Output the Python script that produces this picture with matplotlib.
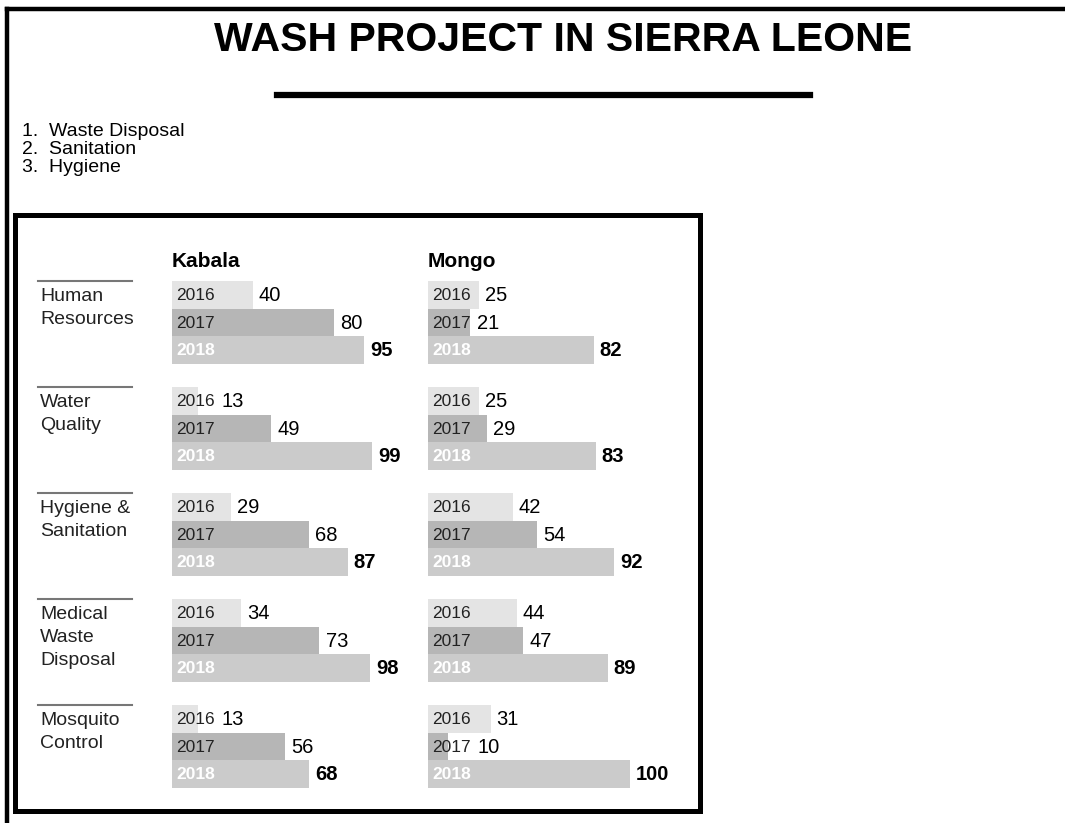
import matplotlib.pyplot as plt
from matplotlib.transforms import blended_transform_factory
from matplotlib.patches import Rectangle
from matplotlib.lines import Line2D

title = "WASH PROJECT IN SIERRA LEONE"
notes = ["1.  Waste Disposal", "2.  Sanitation", "3.  Hygiene"]
categories = ["Human\nResources", "Water\nQuality", "Hygiene &\nSanitation",
              "Medical\nWaste\nDisposal", "Mosquito\nControl"]
years = ["2016", "2017", "2018"]
towns = ["Kabala", "Mongo"]

kabala = {
    "2016": [40, 13, 29, 34, 13],
    "2017": [80, 49, 68, 73, 56],
    "2018": [95, 99, 87, 98, 68],
}
mongo = {
    "2016": [25, 25, 42, 44, 31],
    "2017": [21, 29, 54, 47, 10],
    "2018": [82, 83, 92, 89, 100],
}

bar_colors = {"2016": "#e4e4e4", "2017": "#b6b6b6", "2018": "#cbcbcb"}
year_text = {"2016": "#222222", "2017": "#222222", "2018": "white"}

W, H = 1065, 823
fig = plt.figure(figsize=(W / 100, H / 100), dpi=100)
plt.rcParams['font.family'] = ['Liberation Sans', 'DejaVu Sans']

def fx(px):
    return px / W

def fy(py):
    return 1 - py / H

# frames
fig.add_artist(Line2D([fx(7), 1], [fy(9), fy(9)], color="black", lw=3.2))
fig.add_artist(Line2D([fx(7), fx(7)], [fy(9), 0], color="black", lw=3.2))
fig.add_artist(Rectangle((fx(15), fy(811)), fx(700) - fx(15), fy(215) - fy(811),
                         fill=False, ec="black", lw=3.6))

fig.text(fx(563), fy(40), title, ha="center", va="center", fontsize=29.5,
         fontweight="bold")
fig.add_artist(Line2D([fx(277), fx(810)], [fy(95), fy(95)], color="black", lw=4.5))

for i, n in enumerate(notes):
    fig.text(fx(22), fy(131 + 18.5 * i), n, ha="left", va="center", fontsize=14)

gap = 106 / 27.5
n = len(categories)
ymax = (n - 1) * gap + 3
top_px, bot_px = 281, 281 + 106 * (n - 1) + 82.5
px_per_unit = 2.02
xmax = 130

axes = []
for t, (town, data, left_px) in enumerate(zip(towns, [kabala, mongo], [172, 428])):
    ax = fig.add_axes([fx(left_px), fy(bot_px), xmax * px_per_unit / W,
                       (bot_px - top_px) / H])
    ax.set_xlim(0, xmax)
    ax.set_ylim(ymax, 0)
    ax.axis("off")
    for j, yr in enumerate(years):
        ys = [i * gap + j + 0.5 for i in range(n)]
        ax.barh(ys, data[yr], height=1.0, color=bar_colors[yr], left=0)
        for y, v in zip(ys, data[yr]):
            ax.text(2, y + 0.03, yr, ha="left", va="center", fontsize=12.5,
                    color=year_text[yr], fontweight="bold" if yr == "2018" else "normal")
            lx = max(v, 21.5) + 3
            ax.text(lx, y + 0.03, str(v), ha="left", va="center", fontsize=14.5,
                    color="black", fontweight="bold" if yr == "2018" else "normal")
    ax.text(0, -0.7, town, ha="left", va="center", fontsize=15, fontweight="bold")
    axes.append(ax)

ax = axes[0]
tr = blended_transform_factory(fig.transFigure, ax.transData)
for i, c in enumerate(categories):
    y0 = i * gap
    ax.add_line(Line2D([fx(38), fx(132)], [y0, y0], transform=tr, color="#777777",
                       lw=1.5, clip_on=False))
    ax.text(fx(40), y0 + 0.25, c, transform=tr, ha="left", va="top", fontsize=14,
            linespacing=1.45, color="#222222")

fig.savefig("out.png", dpi=100)
